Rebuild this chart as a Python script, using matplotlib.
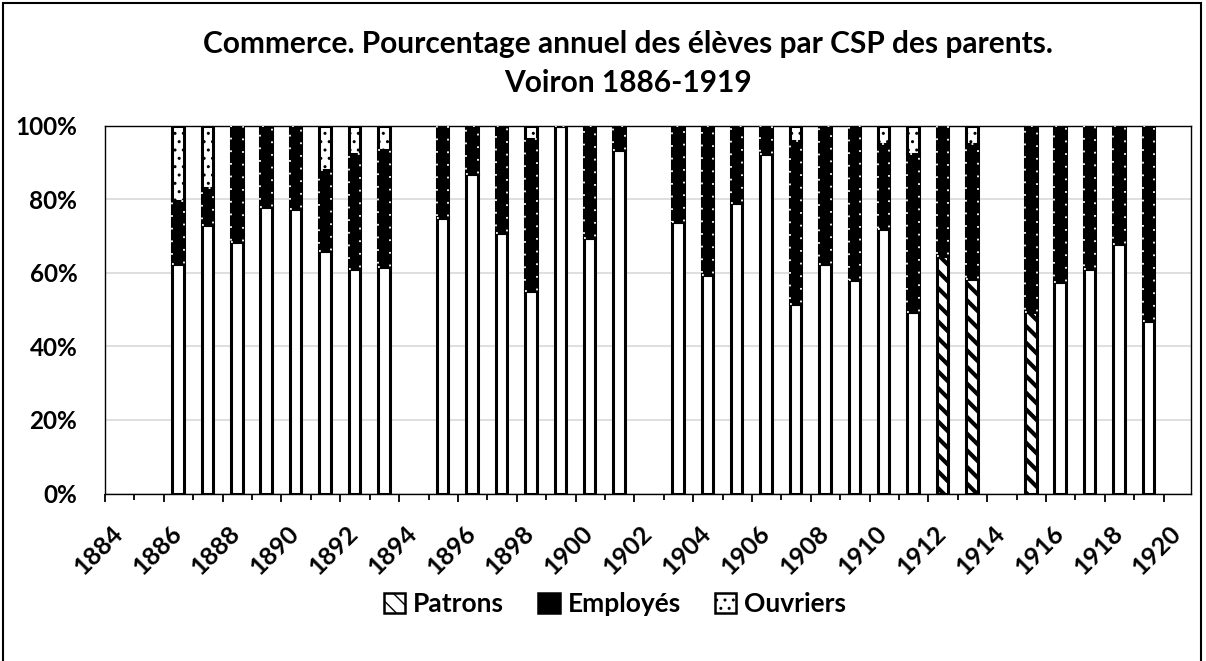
import matplotlib
matplotlib.use('Agg')
import matplotlib.pyplot as plt
import matplotlib.transforms as mtransforms
from matplotlib.patches import Patch, Rectangle
from matplotlib.ticker import MultipleLocator, PercentFormatter

# Données (% par année)
years = [1886, 1887, 1888, 1889, 1890, 1891, 1892, 1893,
         1895, 1896, 1897, 1898, 1899, 1900, 1901,
         1903, 1904, 1905, 1906, 1907, 1908, 1909, 1910, 1911, 1912, 1913,
         1915, 1916, 1917, 1918, 1919]
patrons = [62.5, 73, 68.5, 78, 77.5, 66, 61, 61.5,
           75, 87, 71, 55, 100, 69.5, 93.5,
           74, 59.5, 79, 92.5, 51.5, 62.5, 58, 72, 49.5, 64.5, 58.5,
           49.5, 57.5, 61, 68, 47]
employes = [17, 10, 31.5, 22, 22.5, 22, 31.5, 32,
            25, 13, 29, 41.5, 0, 30.5, 6.5,
            26, 40.5, 21, 7.5, 44.5, 37.5, 42, 23, 43, 35.5, 36.5,
            50.5, 42.5, 39, 32, 53]
ouvriers = [20.5, 17, 0, 0, 0, 12, 7.5, 6.5,
            0, 0, 0, 3.5, 0, 0, 0,
            0, 0, 0, 0, 4, 0, 0, 5, 7.5, 0, 5,
            0, 0, 0, 0, 0]
hatched_years = [1912, 1913, 1915]

labels = ['Patrons', 'Employés', 'Ouvriers']
title = 'Commerce. Pourcentage annuel des élèves par CSP des parents.\nVoiron 1886-1919'

plt.rcParams['font.family'] = ['Lato', 'DejaVu Sans']
plt.rcParams['font.weight'] = 'bold'

fig = plt.figure(figsize=(12.06, 6.61), dpi=100)
ax = fig.add_axes([0.0871, 0.2534, 0.9005, 0.556])

x = [y + 0.48 for y in years]
width = 0.39
lw = 2.2

# Patrons : blanc, sauf quelques années hachurées
p_plain = [(xi, p) for xi, p, y in zip(x, patrons, years) if y not in hatched_years]
p_hatch = [(xi, p) for xi, p, y in zip(x, patrons, years) if y in hatched_years]
ax.bar([a for a, b in p_plain], [b for a, b in p_plain], width=width,
       color='white', edgecolor='black', linewidth=lw, zorder=3)
plt.rcParams['hatch.linewidth'] = 3.0
ax.bar([a for a, b in p_hatch], [b for a, b in p_hatch], width=width,
       color='white', edgecolor='black', linewidth=lw, hatch='\\\\', zorder=3)

# Employés : noir avec petits points blancs sur les bords
ax.bar(x, employes, width=width, bottom=patrons, color='black',
       edgecolor='black', linewidth=lw, zorder=3)
ax.bar(x, employes, width=width, bottom=patrons, fill=False,
       edgecolor='white', linewidth=1.3, linestyle=(0, (1, 6)), zorder=4)

# Ouvriers : pointillé
plt.rcParams['hatch.linewidth'] = 1.0
bottoms = [p + e for p, e in zip(patrons, employes)]
ax.bar(x, ouvriers, width=width, bottom=bottoms, color='white',
       edgecolor='black', linewidth=lw, hatch='..', zorder=3)

ax.set_xlim(1884, 1920.93)
ax.set_ylim(0, 100)
ax.xaxis.set_major_locator(MultipleLocator(2))
ax.xaxis.set_minor_locator(MultipleLocator(1))
ax.yaxis.set_major_locator(MultipleLocator(20))
ax.yaxis.set_major_formatter(PercentFormatter(decimals=0))

ax.grid(axis='y', color='#d9d9d9', linewidth=1.2, zorder=0)
ax.set_axisbelow(True)
for s in ax.spines.values():
    s.set_color('black')
    s.set_linewidth(1.0)

ax.tick_params(axis='y', length=0, pad=20, labelsize=17.5)
ax.tick_params(axis='x', which='major', length=6, width=1.3, direction='out',
               pad=20, labelsize=18)
ax.tick_params(axis='x', which='minor', length=4, width=1.3, direction='out')

offset = mtransforms.ScaledTranslation(10 / 72, 0, fig.dpi_scale_trans)
for lab in ax.get_xticklabels():
    lab.set_rotation(45)
    lab.set_ha('right')
    lab.set_va('center')
    lab.set_rotation_mode('anchor')
    lab.set_transform(lab.get_transform() + offset)
    lab.set_fontweight('bold')
for lab in ax.get_yticklabels():
    lab.set_fontweight('bold')

fig.text(0.521, 0.904, title, ha='center', va='center', fontsize=21.5,
         fontweight='bold', linespacing=1.5)

plt.rcParams['hatch.linewidth'] = 3.0
h1 = Patch(facecolor='white', edgecolor='black', hatch='\\\\', linewidth=1.8)
plt.rcParams['hatch.linewidth'] = 1.0
h2 = Patch(facecolor='black', edgecolor='black', linewidth=1.8)
h3 = Patch(facecolor='white', edgecolor='black', hatch='..', linewidth=1.8)
fig.legend([h1, h2, h3], labels, loc='center', bbox_to_anchor=(0.51, 0.086),
           ncol=3, frameon=False, handlelength=0.8, handleheight=0.8,
           handletextpad=0.3, columnspacing=1.3,
           prop={'size': 19, 'weight': 'bold'})

fig.patches.append(Rectangle((3 / 1206, -0.01), 1198 / 1206, 1.01 - 3 / 661,
                             transform=fig.transFigure, fill=False,
                             edgecolor='black', linewidth=1.5))

fig.savefig('out.png', dpi=100)
